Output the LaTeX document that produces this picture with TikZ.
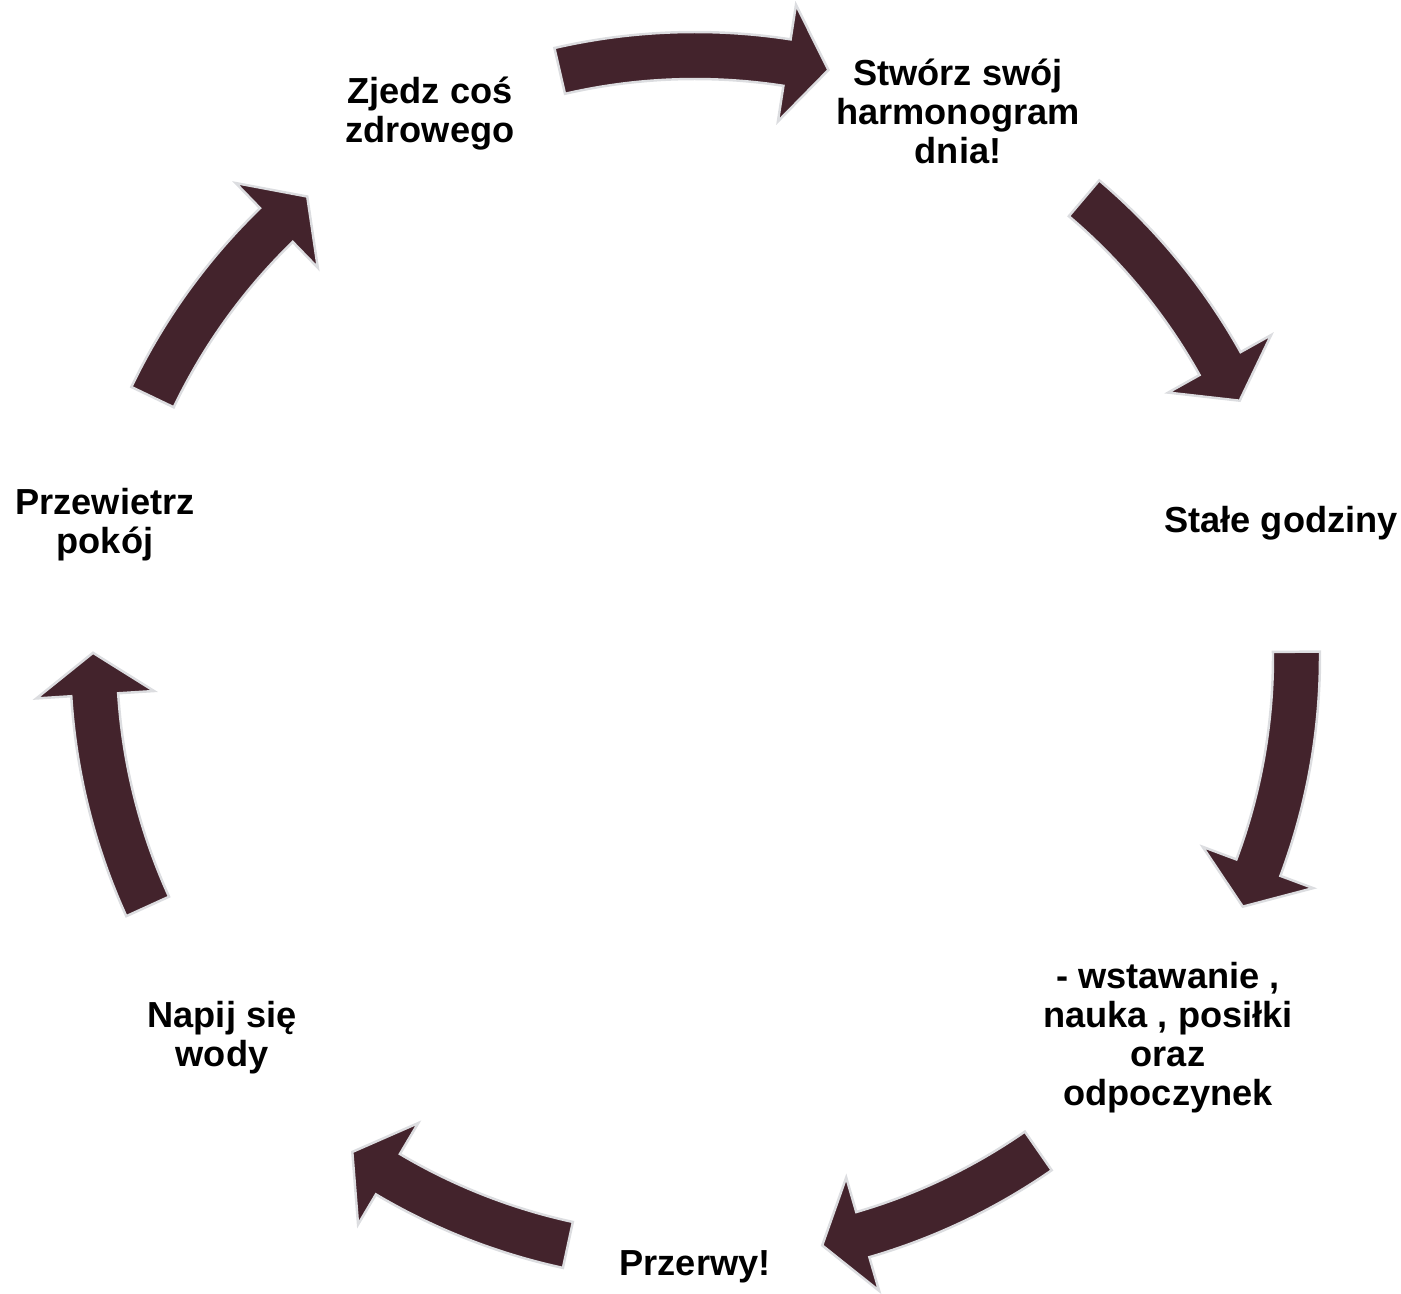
\documentclass[tikz,border=0pt]{standalone}
\usepackage{fontspec}
\setmainfont{Liberation Sans}
\definecolor{wine}{HTML}{43232C}
\definecolor{rim}{HTML}{DCDDE0}

\begin{document}
\begin{tikzpicture}[
    steplabel/.style={align=center, font=\fontsize{10.3}{11.1}\selectfont\bfseries},
    cyclearrow/.style={fill=wine, draw=rim, line width=0.7pt, line join=miter}
  ]
  \useasboundingbox (-6.95,-6.36) rectangle (7.06,6.57);
  % labels round the circle
  \node[steplabel] (plan) at (2.63,5.46) {Stwórz swój\\harmonogram\\dnia!};
  \node[steplabel] (hours) at (5.86,1.34) {Stałe godziny};
  \node[steplabel] (slots) at (4.73,-3.81) {- wstawanie ,\\nauka , posiłki\\oraz\\odpoczynek};
  \node[steplabel] (breaks) at (0,-6.10) {Przerwy!};
  \node[steplabel] (water) at (-4.73,-3.81) {Napij się\\wody};
  \node[steplabel] (air) at (-5.90,1.32) {Przewietrz\\pokój};
  \node[steplabel] (food) at (-2.65,5.43) {Zjedz coś\\zdrowego};
  % curved block arrows, clockwise (tail angle / tip angle)
  \foreach \tail/\tip in {103/77.2, 49.7/25.2, 0.5/-24.5, -55.2/-77.8,
                          -102.2/-124.7, 204.5/179.6, 154.4/130.1}{
    \pgfmathsetmacro\back{\tip+4}
    \filldraw[cyclearrow] (\tail:6.25) arc[start angle=\tail, end angle=\back, radius=6.25]
      -- (\back:6.60) -- (\tip:6.02) -- (\back:5.42) -- (\back:5.78)
      arc[start angle=\back, end angle=\tail, radius=5.78] -- cycle;
  }
\end{tikzpicture}
\end{document}
